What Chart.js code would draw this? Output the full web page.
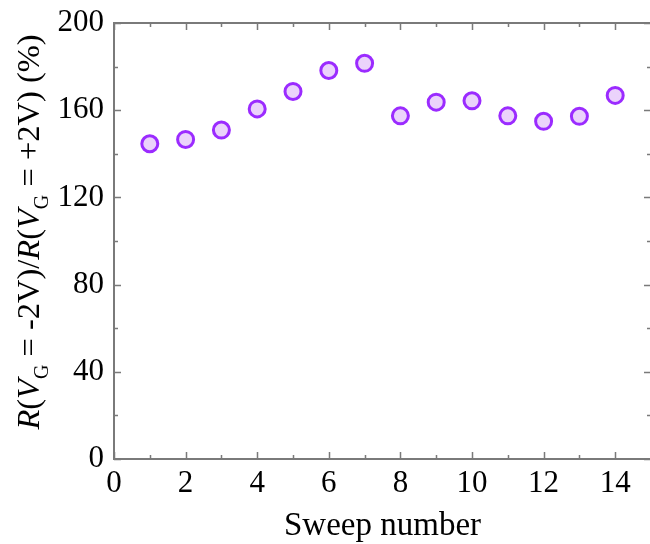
<!DOCTYPE html>
<html>
<head>
<meta charset="utf-8">
<script src="https://cdn.jsdelivr.net/npm/chart.js@4/dist/chart.umd.min.js"></script>
<style>
  html, body { margin: 0; padding: 0; background: #fff; overflow: hidden; }
  canvas { display: block; }
</style>
</head>
<body>
<!-- a little wider than the page so the right frame edge sits at the border -->
<canvas id="c" width="662" height="544"></canvas>
<script>
// sweep index vs. resistance ratio (%)
var sweeps = [1, 2, 3, 4, 5, 6, 7, 8, 9, 10, 11, 12, 13, 14];
var ratio = [144.6, 146.6, 150.9, 160.6, 168.6, 178.2, 181.5, 157.4, 163.7, 164.3, 157.4, 154.9, 157.2, 166.8];
var xTicks = [0, 2, 4, 6, 8, 10, 12, 14];
var yTicks = [0, 40, 80, 120, 160, 200];

var serif = '"Liberation Serif", "Times New Roman", serif';
var axisGray = '#7a7a7a';

// frame on all four sides with inward major/minor ticks
var frameTicks = {
  id: 'frameTicks',
  afterDatasetsDraw: function(chart) {
    var ctx = chart.ctx, a = chart.chartArea;
    var xs = chart.scales.x, ys = chart.scales.y;
    ctx.save();
    ctx.strokeStyle = axisGray;
    ctx.lineWidth = 2;
    ctx.strokeRect(a.left, a.top, a.right - a.left, a.bottom - a.top);
    ctx.lineWidth = 1.5;
    ctx.beginPath();
    for (var v = 0; v <= 15; v++) {
      var len = (v % 2 === 0) ? 7 : 4;
      var px = Math.round(xs.getPixelForValue(v)) + 0.5;
      ctx.moveTo(px, a.bottom); ctx.lineTo(px, a.bottom - len);
      ctx.moveTo(px, a.top); ctx.lineTo(px, a.top + len);
    }
    for (var w = 0; w <= 200; w += 20) {
      var l2 = (w % 40 === 0) ? 7 : 4;
      var py = Math.round(ys.getPixelForValue(w)) + 0.5;
      ctx.moveTo(a.left, py); ctx.lineTo(a.left + l2, py);
      ctx.moveTo(a.right, py); ctx.lineTo(a.right - l2, py);
    }
    ctx.stroke();
    ctx.restore();
  }
};

// y title with italic symbols and subscripts
var yTitle = {
  id: 'yTitle',
  afterDraw: function(chart) {
    var ctx = chart.ctx;
    var size = 32.5, sub = 20;
    var parts = [
      { t: 'R', it: true }, { t: '(' }, { t: 'V', it: true }, { t: 'G', sub: true },
      { t: ' = -2V)/' },
      { t: 'R', it: true }, { t: '(' }, { t: 'V', it: true }, { t: 'G', sub: true },
      { t: ' = +2V) (%)' }
    ];
    function font(p) {
      return (p.it ? 'italic ' : '') + (p.sub ? sub : size) + 'px ' + serif;
    }
    var total = 0;
    parts.forEach(function(p) { ctx.font = font(p); p.w = ctx.measureText(p.t).width; total += p.w; });
    ctx.save();
    ctx.translate(39, 232);
    ctx.rotate(-Math.PI / 2);
    ctx.fillStyle = '#000';
    ctx.textBaseline = 'alphabetic';
    var x = -total / 2;
    parts.forEach(function(p) {
      ctx.font = font(p);
      ctx.fillText(p.t, x, p.sub ? 9 : 0);
      x += p.w;
    });
    ctx.restore();
  }
};

new Chart(document.getElementById('c'), {
  type: 'scatter',
  data: {
    datasets: [{
      data: sweeps.map(function(s, i) { return { x: s, y: ratio[i] }; }),
      pointRadius: 8,
      pointBorderWidth: 3,
      pointBorderColor: '#9b2bff',
      pointBackgroundColor: '#ebd3fb'
    }]
  },
  options: {
    responsive: false,
    devicePixelRatio: 1,
    animation: false,
    layout: { padding: { top: 23, right: 1, left: 0, bottom: 0 } },
    plugins: { legend: { display: false }, tooltip: { enabled: false } },
    scales: {
      x: {
        type: 'linear', min: 0, max: 15,
        grid: { display: false, drawTicks: false },
        border: { display: false },
        afterBuildTicks: function(s) { s.ticks = xTicks.map(function(v) { return { value: v }; }); },
        afterFit: function(s) { s.height = 85; s.paddingLeft = 0; s.paddingRight = 0; },
        ticks: { font: { family: serif, size: 31 }, color: '#000', padding: 6, maxRotation: 0 },
        title: { display: true, text: 'Sweep number', color: '#000', font: { family: serif, size: 33, lineHeight: 1.1 }, padding: { top: 0, bottom: 0 } }
      },
      y: {
        type: 'linear', min: 0, max: 200,
        grid: { display: false, drawTicks: false },
        border: { display: false },
        afterBuildTicks: function(s) { s.ticks = yTicks.map(function(v) { return { value: v }; }); },
        afterFit: function(s) { s.width = 114; s.paddingTop = 0; s.paddingBottom = 0; },
        ticks: { font: { family: serif, size: 31 }, color: '#000', padding: 10 }
      }
    }
  },
  plugins: [frameTicks, yTitle]
});
</script>
</body>
</html>
